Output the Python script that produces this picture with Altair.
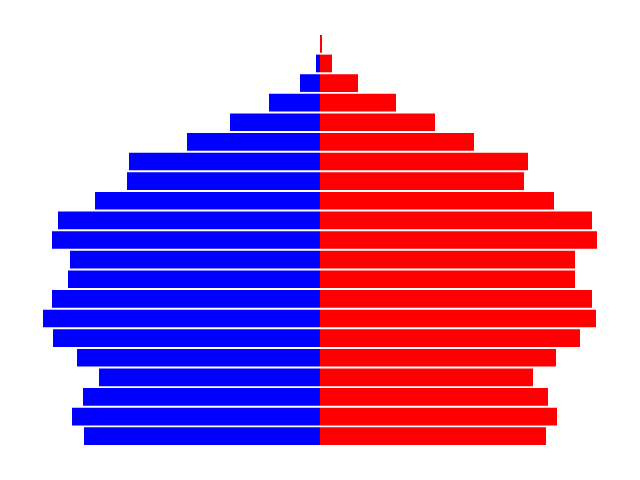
import altair as alt
import pandas as pd

ages = ["100+", "95-99", "90-94", "85-89", "80-84", "75-79", "70-74", "65-69",
        "60-64", "55-59", "50-54", "45-49", "40-44", "35-39", "30-34", "25-29",
        "20-24", "15-19", "10-14", "5-9", "0-4"]
male = [0, 4, 20, 51, 90, 133, 191, 193, 225, 262, 268, 250, 252, 268, 277,
        267, 243, 221, 237, 248, 236]
female = [2, 12, 38, 76, 115, 154, 208, 204, 234, 272, 277, 255, 255, 272, 276,
          260, 236, 213, 228, 237, 226]

rows = []
for a, m, f in zip(ages, male, female):
    rows.append({"age": a, "sex": "Male", "start": -m, "end": 0})
    rows.append({"age": a, "sex": "Female", "start": 0, "end": f})
df = pd.DataFrame(rows)

chart = alt.Chart(df).mark_bar().encode(
    y=alt.Y("age:N", sort=ages, axis=None,
            scale=alt.Scale(range=[35, 445], paddingInner=0.1, paddingOuter=0)),
    x=alt.X("start:Q", axis=None, scale=alt.Scale(domain=[-320, 320], nice=False, zero=False)),
    x2="end:Q",
    color=alt.Color("sex:N", legend=None,
                    scale=alt.Scale(domain=["Male", "Female"], range=["#0000ff", "#ff0000"])),
).properties(width=640, height=480, padding=0, autosize="none").configure_view(stroke=None)

chart.save("out.html", embed_options={"renderer": "svg", "actions": False})
